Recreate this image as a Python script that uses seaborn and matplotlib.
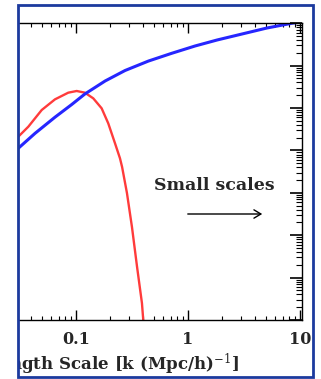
import numpy as np
import pandas as pd
import matplotlib
matplotlib.use("Agg")
import matplotlib.pyplot as plt
from matplotlib.patches import Rectangle, FancyArrowPatch
from matplotlib.ticker import LogLocator, NullFormatter
import seaborn as sns

# ---- data ----
red_k = [0.0305, 0.0375, 0.0494, 0.0649, 0.0853, 0.1014, 0.120, 0.1426, 0.1694,
         0.194, 0.223, 0.247, 0.258, 0.285, 0.316, 0.351, 0.388, 0.405]
red_p = [21000, 36200, 89700, 160000, 230000, 252000, 230000, 169000, 98400,
         43600, 14700, 6500, 4060, 990, 156, 17.8, 2.5, 0.58]

blue_k = [0.0305, 0.0431, 0.0649, 0.0916, 0.120, 0.182, 0.274, 0.443, 0.715,
          1.155, 1.82, 5.07, 8.67, 10.4]
blue_p = [11200, 25300, 60700, 121000, 214000, 434000, 766000, 1.28e6, 1.95e6,
          2.90e6, 4.02e6, 7.71e6, 1.01e7, 1.07e7]

xtick_vals = [0.1, 1, 10]
xtick_labels = ["0.1", "1", "10"]
xlabel = "Length Scale [k (Mpc/h)$^{-1}$]"
annot = "Small scales"

W, H = 321, 379
sns.set_style("white")
plt.rcParams['font.family'] = ['DejaVu Serif']
plt.rcParams['mathtext.fontset'] = 'dejavuserif'

fig = plt.figure(figsize=(W / 100, H / 100), dpi=100)
ax = fig.add_axes([19 / W, (H - 320) / H, (302 - 19) / W, (320 - 23) / H])

red_df = pd.DataFrame({"k": red_k, "P": red_p})
blue_df = pd.DataFrame({"k": blue_k, "P": blue_p})
sns.lineplot(data=red_df, x="k", y="P", ax=ax, color="#ff3b3b", lw=1.7,
             estimator=None, sort=False)
sns.lineplot(data=blue_df, x="k", y="P", ax=ax, color="#2626ff", lw=2.2,
             estimator=None, sort=False)

ax.set_xscale("log")
ax.set_yscale("log")
ax.set_xlim(10 ** -1.509, 10 ** 1.018)
ax.set_ylim(1, 10 ** 7.005)
ax.set_xlabel("")
ax.set_ylabel("")

ax.set_xticks(xtick_vals)
ax.set_xticklabels(xtick_labels, fontsize=11.5, fontweight="bold")
ax.xaxis.set_minor_locator(LogLocator(base=10, subs=np.arange(2, 10)))
ax.xaxis.set_minor_formatter(NullFormatter())
ax.yaxis.set_major_locator(LogLocator(base=10, numticks=20))
ax.yaxis.set_minor_locator(LogLocator(base=10, subs=np.arange(2, 10), numticks=20))
ax.yaxis.set_major_formatter(NullFormatter())
ax.yaxis.set_minor_formatter(NullFormatter())

ax.tick_params(axis="x", which="both", direction="in", top=True, bottom=True,
               color="black")
ax.tick_params(axis="x", which="major", length=7, width=1.0, pad=8)
ax.tick_params(axis="x", which="minor", length=3, width=0.8)
ax.tick_params(axis="y", which="both", direction="in", left=False, right=True,
               labelleft=False, labelright=False, color="black")
ax.tick_params(axis="y", which="major", length=9, width=1.2)
ax.tick_params(axis="y", which="minor", length=4.5, width=0.8)

for side in ["top", "bottom", "right"]:
    ax.spines[side].set_color("black")
    ax.spines[side].set_linewidth(1.0)
    ax.spines[side].set_visible(True)
ax.spines["left"].set_visible(False)

# annotation
fig.text(214 / W, 1 - 186 / H, annot, ha="center", va="center",
         fontsize=12.5, fontweight="bold")
fig.add_artist(FancyArrowPatch(
    (185 / W, 1 - 214 / H), (265 / W, 1 - 214 / H), transform=fig.transFigure,
    arrowstyle="->,head_length=5,head_width=3", color="black", lw=1.0))

# frame
frame = Rectangle((18 / W, 1 - 377 / H), (313 - 18) / W, (377 - 5) / H,
                  transform=fig.transFigure, fill=False, edgecolor="#1c3a9e",
                  lw=2.0, zorder=10)
fig.add_artist(frame)

xl = fig.text(239 / W, 1 - 364 / H, xlabel, ha="right", va="center",
              fontsize=12, fontweight="bold")
clip = Rectangle((19 / W, 0), (313 - 19) / W, 1, transform=fig.transFigure)
xl.set_clip_path(clip)
xl.set_clip_on(True)

fig.savefig("out.png", dpi=100)
